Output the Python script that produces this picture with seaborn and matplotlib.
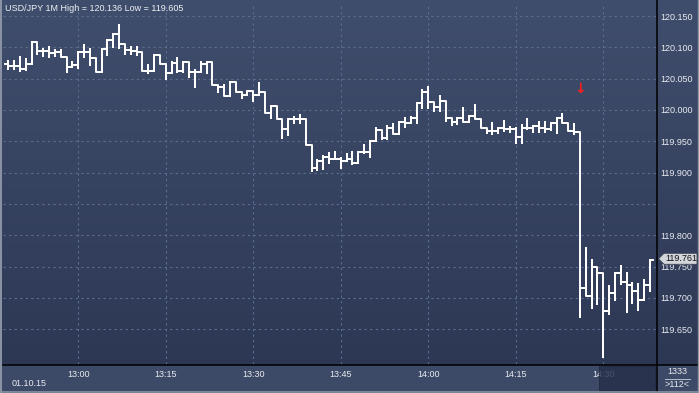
import numpy as np
import pandas as pd
import matplotlib
matplotlib.use("Agg")
import matplotlib.pyplot as plt
import seaborn as sns
from matplotlib.patches import Rectangle, Polygon
from matplotlib.lines import Line2D

# ---------------- data (minutes from 13:00, 1-minute OHLC bars) ----------------
minutes = list(range(-12, 99))
opens = [120.074, 120.070, 120.070, 120.065, 120.074, 120.108, 120.094, 120.094, 120.091, 120.093,
         120.085, 120.069, 120.072, 120.092, 120.092, 120.083, 120.061, 120.097, 120.112, 120.122,
         120.106, 120.096, 120.094, 120.092, 120.063, 120.063, 120.088, 120.074, 120.059, 120.075,
         120.063, 120.076, 120.061, 120.060, 120.074, 120.076, 120.040, 120.036, 120.022, 120.045,
         120.029, 120.024, 120.031, 120.024, 120.029, 119.996, 120.006, 119.985, 119.969, 119.985,
         119.985, 119.985, 119.944, 119.907, 119.919, 119.925, 119.921, 119.921, 119.919, 119.921,
         119.915, 119.933, 119.933, 119.950, 119.968, 119.956, 119.971, 119.962, 119.981, 119.979,
         119.988, 120.011, 120.029, 120.013, 120.005, 120.015, 119.988, 119.981, 119.987, 119.981,
         119.990, 119.985, 119.971, 119.967, 119.967, 119.971, 119.969, 119.969, 119.957, 119.971,
         119.971, 119.974, 119.971, 119.969, 119.979, 119.987, 119.980, 119.967, 119.965, 119.716,
         119.703, 119.750, 119.740, 119.679, 119.708, 119.740, 119.726, 119.720, 119.711, 119.697,
         119.720]
highs = [120.079, 120.079, 120.084, 120.081, 120.108, 120.108, 120.097, 120.100, 120.096, 120.096,
         120.085, 120.077, 120.092, 120.104, 120.097, 120.083, 120.097, 120.112, 120.122, 120.136,
         120.106, 120.100, 120.100, 120.092, 120.072, 120.088, 120.088, 120.074, 120.076, 120.083,
         120.076, 120.076, 120.064, 120.077, 120.077, 120.076, 120.040, 120.040, 120.045, 120.045,
         120.029, 120.031, 120.031, 120.043, 120.029, 120.006, 120.006, 119.985, 119.985, 119.989,
         119.992, 119.985, 119.944, 119.920, 119.926, 119.932, 119.933, 119.923, 119.930, 119.933,
         119.933, 119.944, 119.950, 119.971, 119.968, 119.974, 119.978, 119.981, 119.988, 119.989,
         120.011, 120.032, 120.037, 120.013, 120.022, 120.015, 119.988, 119.987, 120.003, 119.990,
         120.008, 119.985, 119.971, 119.979, 119.972, 119.983, 119.973, 119.972, 119.976, 119.985,
         119.974, 119.981, 119.981, 119.979, 119.987, 119.994, 119.980, 119.978, 119.965, 119.779,
         119.761, 119.750, 119.740, 119.719, 119.740, 119.751, 119.740, 119.724, 119.722, 119.728,
         119.761]
lows = [120.065, 120.065, 120.063, 120.064, 120.074, 120.090, 120.086, 120.085, 120.086, 120.085,
        120.061, 120.069, 120.067, 120.085, 120.072, 120.061, 120.061, 120.088, 120.101, 120.099,
        120.090, 120.090, 120.088, 120.063, 120.059, 120.063, 120.074, 120.049, 120.059, 120.060,
        120.060, 120.052, 120.036, 120.060, 120.059, 120.040, 120.029, 120.022, 120.022, 120.028,
        120.019, 120.024, 120.015, 120.024, 119.996, 119.988, 119.985, 119.955, 119.960, 119.979,
        119.979, 119.944, 119.903, 119.904, 119.905, 119.916, 119.921, 119.907, 119.919, 119.914,
        119.915, 119.932, 119.925, 119.950, 119.953, 119.953, 119.962, 119.962, 119.973, 119.979,
        119.979, 120.003, 120.003, 119.999, 119.999, 119.983, 119.976, 119.978, 119.981, 119.981,
        119.985, 119.971, 119.964, 119.962, 119.964, 119.967, 119.965, 119.948, 119.948, 119.969,
        119.965, 119.965, 119.965, 119.968, 119.964, 119.979, 119.967, 119.962, 119.670, 119.703,
        119.683, 119.690, 119.605, 119.674, 119.696, 119.722, 119.678, 119.692, 119.680, 119.697,
        119.711]
closes = [120.070, 120.070, 120.065, 120.074, 120.108, 120.094, 120.094, 120.091, 120.093, 120.085,
          120.069, 120.072, 120.092, 120.092, 120.083, 120.061, 120.097, 120.112, 120.122, 120.106,
          120.096, 120.094, 120.092, 120.063, 120.063, 120.088, 120.074, 120.059, 120.075, 120.063,
          120.076, 120.061, 120.060, 120.074, 120.076, 120.040, 120.036, 120.022, 120.045, 120.029,
          120.024, 120.031, 120.024, 120.029, 119.996, 120.006, 119.985, 119.969, 119.985, 119.985,
          119.985, 119.944, 119.907, 119.919, 119.925, 119.921, 119.921, 119.919, 119.921, 119.915,
          119.933, 119.933, 119.950, 119.968, 119.956, 119.971, 119.962, 119.981, 119.979, 119.988,
          120.011, 120.029, 120.013, 120.005, 120.015, 119.988, 119.981, 119.987, 119.981, 119.990,
          119.985, 119.971, 119.967, 119.967, 119.971, 119.969, 119.969, 119.957, 119.971, 119.971,
          119.974, 119.971, 119.969, 119.979, 119.987, 119.980, 119.967, 119.965, 119.716, 119.703,
          119.750, 119.740, 119.679, 119.708, 119.740, 119.726, 119.720, 119.711, 119.697, 119.720,
          119.761]

xtick_minutes = [0, 15, 30, 45, 60, 75, 90]
xtick_labels = ["13:00", "13:15", "13:30", "13:45", "14:00", "14:15", "14:30"]
ytick_values = [120.150, 120.100, 120.050, 120.000, 119.950, 119.900, 119.850,
                119.800, 119.750, 119.700, 119.650]
ytick_labels = ["120.150", "120.100", "120.050", "120.000", "119.950", "119.900", "",
                "119.800", "119.750", "119.700", "119.650"]
signal_minute = [86]
signal_price = [120.034]
symbol = "USD/JPY"
period = "1M"
date_label = "01.10.15"
counter_top = "1333"
counter_bottom = ">112<"

# ---------------- style ----------------
plt.rcParams["font.family"] = ["Liberation Sans", "DejaVu Sans"]
W, H = 699, 393


def fx(x):
    return x / W


def fy(y):
    return 1 - y / H


fig = plt.figure(figsize=(W / 100, H / 100), dpi=100)

# background gradient
bg = fig.add_axes([0, 0, 1, 1], zorder=-10)
top_c = np.array(matplotlib.colors.to_rgb("#404e6d"))
bot_c = np.array(matplotlib.colors.to_rgb("#2b3652"))
t = np.linspace(0, 1, 256)[:, None]
grad = (top_c[None, :] * (1 - t) + bot_c[None, :] * t)[:, None, :]
bg.imshow(grad, aspect="auto", extent=[0, 1, 0, 1], origin="upper")
bg.set_axis_off()

# bottom time strip
fig.add_artist(Rectangle((0, fy(392)), 1, fy(365) - fy(392), transform=fig.transFigure,
                         facecolor="#3d4a67", edgecolor="none", zorder=-5))

# main axes
ax = fig.add_axes([fx(3), fy(364), fx(656) - fx(3), fy(3) - fy(364)], zorder=0)
ax.patch.set_alpha(0)

rows = []
for m, o, h, l, c in zip(minutes, opens, highs, lows, closes):
    pts = [(m - 0.5, o), (m, o), (m, h), (m, l), (m, c), (m + 0.5, c)]
    for k, (xx, yy) in enumerate(pts):
        rows.append({"bar": m, "order": k, "x": xx, "y": yy})
df = pd.DataFrame(rows)

sns.lineplot(data=df, x="x", y="y", units="bar", estimator=None, sort=False,
             color="white", lw=1.4, ax=ax, legend=False, zorder=3)

ax.set_xlim(-12.91, 99.04)
ax.set_ylim(119.5943, 120.1709)
ax.set_xlabel("")
ax.set_ylabel("")
for s in ax.spines.values():
    s.set_visible(False)

ax.set_xticks(xtick_minutes)
ax.set_xticklabels(xtick_labels)
ax.set_yticks(ytick_values)
ax.set_yticklabels(ytick_labels)
ax.yaxis.tick_right()
ax.tick_params(axis="both", length=0, labelsize=6.5, colors="#e8ebf0")
ax.tick_params(axis="x", pad=4.2)
ax.tick_params(axis="y", pad=3.0)
ax.grid(True, color="#5b6e91", linestyle=(0, (2, 3)), lw=0.8)
ax.set_axisbelow(True)

# signal arrow
for sm, sp in zip(signal_minute, signal_price):
    ax.text(sm, sp, "\u2193", color="#ff1e1e", fontsize=10, fontweight="bold",
            ha="center", va="center", family=["DejaVu Sans"], zorder=5)

# title
fig.text(fx(5), fy(8.5), f"{symbol} {period} High = {max(highs):.3f} Low = {min(lows):.3f}",
         color="#eef0f4", fontsize=6.5, ha="left", va="center")

# frame lines
fig.add_artist(Line2D([fx(3), 1], [fy(364.5), fy(364.5)], color="black", lw=1.1, zorder=2))
fig.add_artist(Line2D([fx(656.5), fx(656.5)], [0, 1], color="black", lw=1.1, zorder=2))
fig.add_artist(Line2D([fx(1), fx(1)], [0, 1], color="#8c95a6", lw=1.4, zorder=2))
fig.add_artist(Line2D([0, 1], [fy(392.3), fy(392.3)], color="#8c95a6", lw=1.2, zorder=2))
fig.add_artist(Line2D([fx(698.3), fx(698.3)], [0, 1], color="#8c95a6", lw=1.0, zorder=2))

# dim overlay at the right of the time strip
fig.add_artist(Rectangle((fx(599), fy(390)), fx(655) - fx(599), fy(366) - fy(390),
                         transform=fig.transFigure, facecolor="#242e47", alpha=0.8,
                         edgecolor="#1e263a", lw=0.6, zorder=1.5))

# date and counters
fig.text(fx(29.5), fy(383.5), date_label, color="#e8ebf0", fontsize=6.5, ha="center", va="center")
fig.text(fx(677.5), fy(371.5), counter_top, color="#e8ebf0", fontsize=6.5, ha="center", va="center")
fig.add_artist(Line2D([fx(665), fx(690)], [fy(378.5), fy(378.5)], color="#b8bfcc", lw=0.7, zorder=2))
fig.text(fx(677.5), fy(384.8), counter_bottom, color="#e8ebf0", fontsize=6.5, ha="center", va="center")

# last price label
last = closes[-1]
py = fy(258.8)
poly = Polygon([(fx(658.5), py), (fx(664), fy(253.3)), (fx(697), fy(253.3)),
                (fx(697), fy(264.3)), (fx(664), fy(264.3))], closed=True,
               transform=fig.transFigure, facecolor="#d2d5db", edgecolor="#3a4150", lw=0.6, zorder=3)
fig.add_artist(poly)
fig.text(fx(681), py, f"{last:.3f}", color="#111111", fontsize=6.5, ha="center", va="center", zorder=4)

fig.savefig("out.png", dpi=100)
